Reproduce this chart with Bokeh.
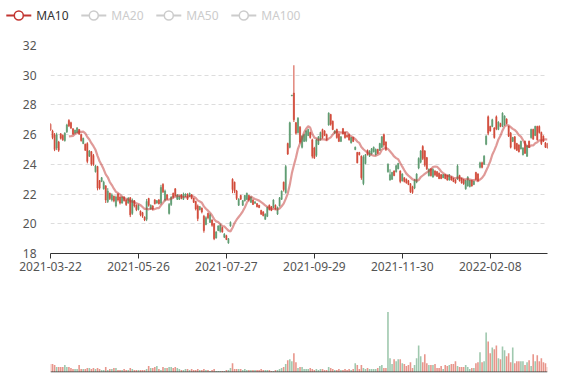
import numpy as np
import pandas as pd
from bokeh.plotting import figure
from bokeh.layouts import column
from bokeh.models import ColumnDataSource, Range1d, FixedTicker, SingleIntervalTicker, Span
from bokeh.embed import file_html
from bokeh.resources import INLINE
from bokeh.core.properties import value

# ---------------- data ----------------
TICK_LABELS = ["2021-03-22", "2021-05-26", "2021-07-27", "2021-09-29", "2021-11-30", "2022-02-08"]
TICK_EVERY = 43  # categories between labelled ticks

OPEN = [
    26.7, 26.25, 26.0, 25.1, 25.5, 26.05, 25.95, 25.6, 26.2, 26.95,
    26.8, 26.4, 26.1, 26.15, 26.35, 26.0, 25.4, 25.35, 25.4, 24.55,
    24.85, 24.6, 23.5, 23.85, 22.9, 22.85, 22.35, 22.55, 21.5, 22.05,
    21.6, 21.85, 21.2, 22.0, 21.8, 21.4, 21.8, 21.6, 21.4, 21.75,
    20.7, 21.55, 21.25, 20.95, 20.85, 20.75, 20.45, 20.3, 21.7, 21.0,
    21.2, 21.6, 21.4, 21.6, 21.4, 22.65, 21.6, 21.95, 20.7, 21.3,
    22.05, 22.35, 21.65, 21.65, 21.95, 21.65, 21.85, 22.0, 21.85, 21.95,
    21.7, 21.5, 21.2, 20.95, 21.05, 20.5, 19.95, 20.7, 20.1, 20.25,
    20.0, 19.05, 19.55, 19.5, 19.75, 19.1, 19.2, 18.7, 19.85, 23.0,
    22.8, 22.2, 21.25, 21.9, 21.25, 21.55, 21.65, 21.9, 21.45, 21.6,
    21.38, 21.35, 21.25, 20.9, 20.8, 20.3, 20.5, 21.25, 21.15, 21.1,
    21.25, 20.65, 21.2, 21.65, 22.8, 22.1, 25.4, 25.15, 28.6, 28.8,
    26.8, 26.15, 26.5, 25.15, 25.55, 25.6, 25.95, 26.15, 25.65, 25.1,
    24.6, 25.35, 25.65, 26.35, 26.25, 26.0, 26.65, 27.35, 26.9, 26.1,
    26.35, 26.05, 25.55, 26.4, 26.15, 25.95, 26.0, 25.45, 25.8, 25.0,
    24.8, 24.8, 24.55, 22.7, 24.05, 24.95, 24.55, 24.7, 24.85, 24.65,
    25.0, 24.95, 25.15, 26.0, 25.5, 23.5, 22.95, 23.0, 23.55, 23.5,
    23.7, 23.55, 22.9, 23.1, 23.0, 22.9, 22.7, 22.5, 22.4, 22.8,
    23.75, 24.15, 25.2, 24.9, 24.45, 23.25, 23.7, 23.15, 23.55, 23.5,
    23.4, 23.3, 23.1, 23.3, 23.25, 22.95, 23.15, 23.05, 22.95, 23.0,
    23.25, 23.05, 22.95, 22.35, 22.55, 22.5, 22.9, 22.65, 23.45, 23.35,
    23.8, 24.1, 24.0, 25.35, 27.2, 26.55, 26.55, 26.45, 27.2, 26.35,
    26.75, 26.55, 26.65, 27.05, 26.55, 26.1, 25.55, 25.85, 25.4, 25.3,
    25.05, 24.65, 25.55, 24.55, 25.55, 25.8, 26.35, 25.95, 26.55, 26.55,
    26.15, 25.9, 25.45, 25.4,
]
HIGH = [
    26.78, 26.33, 26.11, 26.13, 25.58, 26.11, 26.02, 26.16, 26.73, 27.04,
    26.87, 26.42, 26.33, 26.51, 26.38, 26.07, 25.8, 25.4, 25.49, 24.96,
    24.9, 24.7, 23.95, 23.9, 22.95, 23.15, 22.9, 22.6, 22.4, 22.1,
    22.05, 21.9, 21.9, 22.05, 21.85, 21.85, 21.85, 21.65, 21.8, 21.8,
    21.7, 21.6, 21.3, 21.3, 20.9, 20.8, 20.5, 21.67, 21.75, 21.3,
    21.25, 21.67, 21.6, 21.67, 22.62, 22.73, 22.3, 22.0, 21.4, 21.85,
    22.1, 22.4, 22.0, 21.9, 22.0, 22.1, 22.05, 22.05, 22.1, 22.0,
    21.75, 21.55, 21.3, 21.2, 21.1, 20.6, 20.5, 20.75, 20.7, 20.3,
    20.05, 19.5, 19.9, 20.0, 19.8, 19.37, 19.26, 19.04, 20.16, 23.06,
    22.84, 22.28, 21.72, 21.95, 21.6, 21.95, 22.1, 21.95, 21.85, 21.65,
    21.5, 21.4, 21.27, 20.94, 20.85, 20.7, 21.16, 21.3, 21.2, 21.65,
    21.3, 21.16, 21.8, 22.24, 22.84, 23.96, 25.46, 26.87, 28.68, 30.67,
    26.85, 27.18, 26.58, 25.96, 26.07, 26.3, 26.4, 26.2, 25.73, 25.18,
    25.73, 25.9, 26.2, 26.4, 26.3, 26.07, 27.5, 27.4, 26.95, 26.3,
    26.4, 26.1, 25.9, 26.45, 26.2, 26.0, 26.07, 25.85, 25.85, 25.2,
    24.84, 24.84, 24.6, 24.62, 24.7, 25.0, 24.95, 25.1, 25.2, 25.07,
    25.05, 25.45, 25.9, 26.07, 25.55, 24.07, 23.67, 23.5, 23.6, 23.96,
    24.1, 23.6, 23.4, 23.13, 23.05, 22.95, 22.73, 22.56, 23.0, 23.4,
    24.47, 24.96, 25.29, 24.96, 24.5, 23.73, 23.73, 23.73, 23.6, 23.55,
    23.45, 23.35, 23.35, 23.35, 23.3, 23.35, 23.2, 23.1, 23.0, 24.0,
    23.3, 23.1, 23.02, 22.96, 23.2, 22.96, 22.96, 22.9, 23.5, 23.4,
    24.18, 24.18, 24.62, 25.96, 27.29, 26.6, 27.07, 26.5, 27.29, 26.9,
    26.8, 27.5, 27.3, 27.1, 26.6, 26.18, 25.85, 25.9, 25.45, 25.35,
    25.6, 25.15, 25.6, 25.29, 25.6, 26.4, 26.4, 26.6, 26.6, 26.62,
    26.2, 25.95, 25.5, 25.45,
]
LOW = [
    26.24, 25.69, 24.89, 24.96, 24.84, 25.67, 25.58, 25.53, 26.11, 26.51,
    26.38, 25.98, 26.07, 26.11, 25.98, 25.53, 25.36, 24.91, 24.07, 24.5,
    23.9, 23.9, 23.45, 22.25, 22.3, 22.8, 22.3, 21.4, 21.4, 21.6,
    21.5, 21.45, 21.1, 21.5, 21.3, 21.35, 21.5, 21.2, 21.35, 20.45,
    20.6, 21.1, 20.85, 20.9, 20.5, 20.4, 20.18, 20.18, 21.15, 20.95,
    20.9, 21.3, 21.35, 21.3, 21.29, 22.07, 21.5, 21.6, 20.62, 21.2,
    21.7, 21.84, 21.6, 21.6, 21.65, 21.6, 21.8, 21.6, 21.8, 21.65,
    21.4, 20.9, 20.18, 20.9, 20.7, 19.4, 19.9, 20.3, 20.05, 19.8,
    18.9, 19.0, 19.5, 19.4, 19.4, 19.04, 18.9, 18.66, 19.8, 22.06,
    22.06, 21.6, 21.2, 21.61, 21.2, 21.5, 21.6, 21.5, 21.4, 21.27,
    21.35, 21.1, 21.05, 20.6, 20.5, 20.27, 20.45, 20.9, 20.85, 21.05,
    20.95, 20.6, 21.16, 21.6, 22.17, 22.03, 24.63, 25.08, 28.6, 26.85,
    26.0, 26.07, 25.4, 25.07, 25.5, 25.5, 25.9, 25.73, 24.4, 24.36,
    24.5, 25.3, 25.6, 25.73, 25.9, 25.6, 26.6, 26.6, 26.3, 26.05,
    25.73, 25.5, 25.5, 26.0, 25.73, 25.8, 25.6, 25.4, 25.5, 24.95,
    24.07, 24.6, 22.96, 22.6, 24.0, 24.6, 24.5, 24.65, 24.8, 24.6,
    24.7, 24.9, 25.1, 25.18, 24.9, 23.44, 22.9, 22.95, 23.2, 23.45,
    23.67, 22.73, 22.84, 22.78, 22.7, 22.6, 22.07, 22.02, 22.33, 22.73,
    23.67, 24.07, 24.29, 23.84, 23.62, 23.18, 23.18, 23.1, 23.2, 23.15,
    23.0, 23.0, 23.07, 23.0, 22.9, 22.9, 22.9, 22.8, 22.7, 22.96,
    22.84, 22.7, 22.62, 22.29, 22.5, 22.45, 22.5, 22.6, 22.96, 22.85,
    23.73, 23.73, 23.96, 25.29, 25.96, 26.2, 26.5, 25.73, 26.3, 26.3,
    26.5, 26.5, 26.6, 26.7, 25.84, 25.07, 25.5, 25.0, 24.9, 24.8,
    25.0, 24.6, 24.7, 24.5, 25.1, 25.73, 25.65, 25.9, 25.6, 26.07,
    25.3, 25.5, 25.1, 25.05,
]
CLOSE = [
    26.3, 25.8, 25.0, 26.0, 24.95, 25.75, 25.65, 26.1, 26.65, 26.6,
    26.45, 26.05, 26.3, 26.45, 26.05, 25.6, 25.75, 24.95, 24.2, 24.9,
    24.0, 24.0, 23.9, 22.4, 22.4, 23.1, 22.8, 21.6, 22.2, 21.7,
    21.95, 21.55, 21.8, 21.6, 21.4, 21.8, 21.55, 21.3, 21.7, 20.6,
    21.6, 21.2, 20.95, 21.25, 20.6, 20.5, 20.25, 21.5, 21.25, 21.25,
    21.0, 21.35, 21.55, 21.35, 22.45, 22.15, 22.2, 21.7, 21.3, 21.8,
    21.8, 21.9, 21.95, 21.85, 21.7, 22.0, 22.0, 21.65, 22.05, 21.7,
    21.45, 21.0, 20.35, 21.15, 20.8, 19.55, 20.4, 20.4, 20.6, 19.9,
    19.0, 19.45, 19.85, 19.9, 19.45, 19.3, 18.95, 19.0, 20.1, 22.3,
    22.2, 21.7, 21.65, 21.65, 21.55, 21.9, 22.05, 21.6, 21.8, 21.3,
    21.48, 21.15, 21.1, 20.65, 20.55, 20.65, 21.1, 20.95, 20.9, 21.6,
    21.0, 21.1, 21.75, 22.2, 22.3, 23.85, 24.7, 26.8, 28.65, 27.0,
    26.1, 27.1, 25.5, 25.9, 26.0, 26.25, 26.35, 25.8, 24.55, 24.45,
    25.65, 25.85, 26.15, 25.8, 25.95, 25.65, 27.45, 26.7, 26.35, 26.25,
    25.8, 25.55, 25.85, 26.05, 25.8, 25.85, 25.65, 25.8, 25.55, 25.15,
    24.1, 24.65, 23.1, 24.5, 24.65, 24.65, 24.9, 25.05, 25.15, 25.0,
    24.75, 25.4, 25.85, 25.3, 25.0, 24.0, 23.3, 23.45, 23.25, 23.9,
    24.05, 22.85, 23.35, 22.85, 22.75, 22.65, 22.15, 22.1, 22.95, 23.35,
    24.4, 24.9, 24.4, 23.95, 23.7, 23.65, 23.25, 23.65, 23.3, 23.2,
    23.05, 23.05, 23.3, 23.05, 22.95, 23.3, 22.95, 22.85, 22.75, 23.9,
    22.9, 22.75, 22.7, 22.9, 23.15, 22.9, 22.55, 22.85, 23.0, 22.9,
    24.1, 23.8, 24.55, 25.9, 26.1, 26.25, 27.0, 25.8, 26.4, 26.85,
    26.55, 27.45, 27.25, 26.75, 25.9, 25.15, 25.8, 25.05, 24.95, 24.85,
    25.55, 25.1, 24.75, 25.25, 25.15, 26.35, 25.7, 26.55, 25.65, 26.15,
    25.4, 25.55, 25.15, 25.1,
]
VOLUME = [
    8, 8, 7, 5, 5, 5, 5, 7, 5, 5,
    4, 3, 3, 3, 7, 3, 3, 3, 4, 4,
    3, 4, 3, 4, 3, 2, 2, 5, 2, 3,
    3, 4, 4, 2, 2, 2, 3, 2, 2, 4,
    3, 2, 2, 2, 2, 2, 2, 3, 6, 4,
    4, 5, 6, 3, 2, 5, 4, 4, 5, 5,
    4, 5, 4, 3, 2, 2, 3, 3, 2, 3,
    2, 2, 3, 2, 2, 3, 2, 2, 1, 2,
    3, 1, 1, 1, 1, 1, 2, 2, 4, 9,
    3, 3, 3, 3, 2, 3, 2, 2, 2, 2,
    2, 2, 2, 3, 2, 2, 2, 2, 1, 1,
    2, 2, 3, 4, 5, 8, 12, 13, 11, 19,
    10, 4, 5, 5, 3, 3, 3, 4, 3, 2,
    3, 2, 3, 3, 2, 2, 5, 4, 3, 2,
    2, 3, 2, 2, 3, 2, 3, 2, 3, 9,
    7, 3, 7, 4, 3, 4, 3, 3, 3, 3,
    4, 6, 7, 4, 4, 61, 14, 8, 13, 11,
    13, 13, 9, 8, 6, 7, 10, 4, 7, 14,
    27, 16, 10, 18, 9, 7, 7, 7, 8, 4,
    4, 6, 3, 7, 6, 7, 8, 8, 11, 6,
    5, 5, 5, 7, 5, 3, 4, 4, 9, 10,
    20, 10, 11, 40, 31, 19, 25, 23, 27, 14,
    13, 26, 22, 16, 19, 10, 25, 9, 11, 11,
    11, 11, 7, 10, 12, 6, 18, 11, 17, 11,
    14, 10, 9, 5,
]
LEGEND_NAMES = ["MA10", "MA20", "MA50", "MA100"]
LEGEND_ACTIVE = [True, False, False, False]

# ---------------- styling ----------------
FONT = "Noto Sans"
RED = "#d24b3b"
GREEN = "#5f9c72"
VRED = "#e8968c"
VGREEN = "#9fc8ae"
MA_COLOR = "#c23531"
W = 577

N = len(CLOSE)
idx = np.arange(N)
o = np.array(OPEN)
c = np.array(CLOSE)
up = c >= o
ma10 = pd.Series(CLOSE).rolling(10).mean().to_numpy()

src = ColumnDataSource(dict(
    x=idx, l=LOW, h=HIGH,
    top=np.maximum(o, c), bottom=np.minimum(o, c),
    color=[GREEN if u else RED for u in up],
    vol=VOLUME,
    vcolor=[VGREEN if u else VRED for u in up],
))

# ---------------- legend row ----------------
leg = figure(width=W, height=30, x_range=Range1d(0, W), y_range=Range1d(0, 30),
             toolbar_location=None, output_backend="svg", min_border=0,
             x_axis_location=None, y_axis_location=None)
leg.frame_align = False
leg.grid.visible = False
leg.outline_line_color = None
lx = [18.3 + 75 * k for k in range(len(LEGEND_NAMES))]
lcol = [MA_COLOR if a else "#cccccc" for a in LEGEND_ACTIVE]
tcol = ["#333333" if a else "#cccccc" for a in LEGEND_ACTIVE]
leg.segment(x0=[x - 12.5 for x in lx], x1=[x + 12.5 for x in lx], y0=15, y1=15,
            line_color=lcol, line_width=2)
leg.scatter(x=lx, y=[15] * len(lx), size=9, marker="circle", fill_color="white",
            line_color=lcol, line_width=1.5)
leg.text(x=[x + 17.5 for x in lx], y=[15] * len(lx), text=LEGEND_NAMES,
         text_color=tcol, text_font=value(FONT), text_font_size="12px",
         text_baseline="middle", text_align="left")

# ---------------- price chart ----------------
p = figure(width=W, height=247, x_range=Range1d(0, N - 1), y_range=Range1d(18, 32),
           toolbar_location=None, output_backend="svg",
           min_border_left=50, min_border_right=30, min_border_top=15, min_border_bottom=24)
p.outline_line_color = None
p.segment(x0="x", x1="x", y0="l", y1="h", line_color="color", line_width=1, source=src)
p.vbar(x="x", width=0.55, top="top", bottom="bottom", fill_color="color",
       line_color="color", line_width=0.6, source=src)
p.line(idx, ma10, line_color=MA_COLOR, line_alpha=0.5, line_width=2.2)

p.yaxis.ticker = SingleIntervalTicker(interval=2)
p.yaxis.axis_line_color = None
p.yaxis.major_tick_line_color = None
p.yaxis.minor_tick_line_color = None
p.yaxis.major_label_standoff = 8
p.ygrid.ticker = SingleIntervalTicker(interval=2)
p.ygrid.grid_line_color = "#dddddd"
p.ygrid.grid_line_dash = "4 3"
p.xgrid.visible = False

tick_pos = [k * TICK_EVERY for k in range(len(TICK_LABELS))]
p.xaxis.ticker = FixedTicker(ticks=tick_pos)
p.xaxis.major_label_overrides = {t: s for t, s in zip(tick_pos, TICK_LABELS)}
p.xaxis.axis_line_color = "#333333"
p.xaxis.major_tick_line_color = "#333333"
p.xaxis.major_tick_out = 5
p.xaxis.major_tick_in = 0
p.xaxis.minor_tick_line_color = None
p.xaxis.major_label_standoff = 3
for ax in (p.xaxis, p.yaxis):
    ax.major_label_text_font = FONT
    ax.major_label_text_font_size = "12px"
    ax.major_label_text_color = "#555555"

# ---------------- volume chart ----------------
vmax = max(VOLUME)
v = figure(width=W, height=103, x_range=p.x_range,
           y_range=Range1d(-vmax * 0.0083, vmax * 1.19),
           toolbar_location=None, output_backend="svg",
           min_border_left=50, min_border_right=30, min_border_top=23, min_border_bottom=8,
           x_axis_location=None, y_axis_location=None)
v.grid.visible = False
v.outline_line_color = None
v.vbar(x="x", width=0.78, top="vol", bottom=0, fill_color="vcolor", line_color=None, source=src)
v.add_layout(Span(location=0, dimension="width", line_color="#333333", line_width=1))

layout = column(leg, p, v)
open("out.html", "w").write(file_html(layout, INLINE))
